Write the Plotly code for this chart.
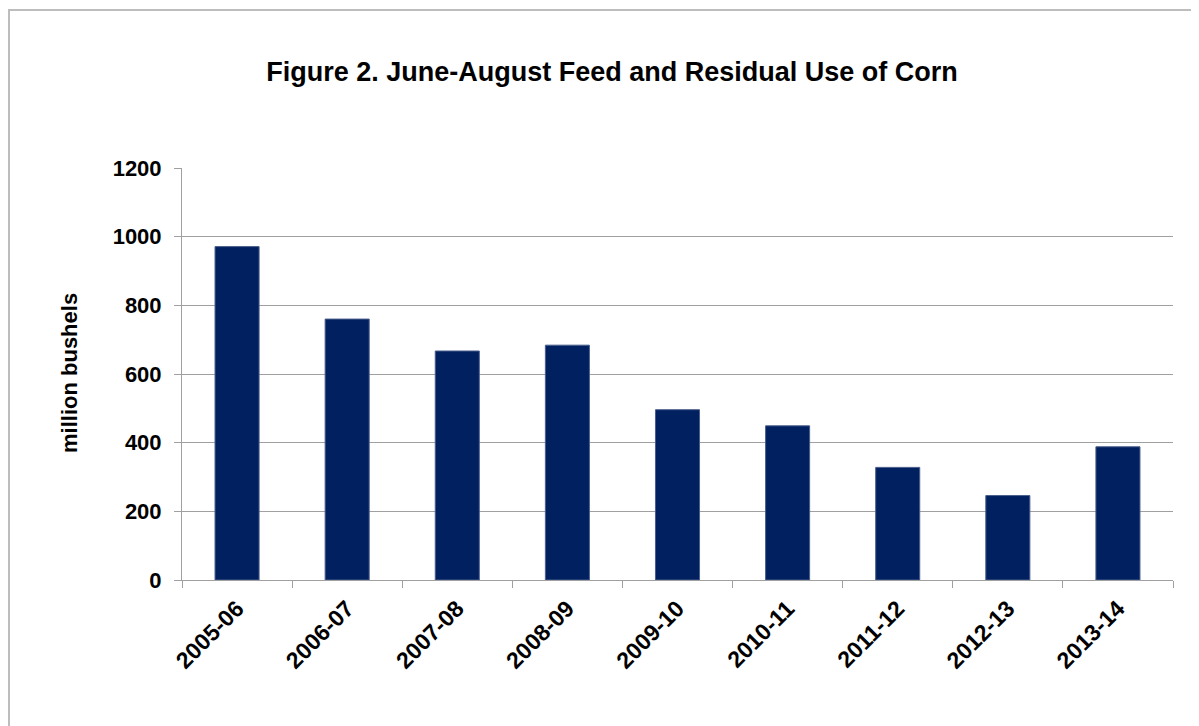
import plotly.graph_objects as go

seasons = ["2005-06", "2006-07", "2007-08", "2008-09", "2009-10",
           "2010-11", "2011-12", "2012-13", "2013-14"]
feed_residual = [971, 760, 667, 684, 496, 449, 328, 246, 388]
y_ticks = [0, 200, 400, 600, 800, 1000, 1200]

W, H = 1199, 726
OFF = 8  # page body margin
# target plot area in screenshot pixels
PL, PR, PT, PB = 182, 1173, 168, 580
ML, MT = PL - OFF, PT - OFF
MR, MB = (W + OFF) - PR, (H + OFF) - PB
PW, PH = PR - PL, PB - PT

fig = go.Figure(go.Bar(
    x=seasons, y=feed_residual,
    marker=dict(color="#002060", line=dict(color="#4A5E8C", width=1)),
    width=0.4,
))

font = "Liberation Sans, Arial, sans-serif"
fig.update_layout(
    width=W, height=H,
    margin=dict(l=ML, r=MR, t=MT, b=MB, autoexpand=False),
    paper_bgcolor="white", plot_bgcolor="white",
    showlegend=False,
    title=dict(text="<b>Figure 2. June-August Feed and Residual Use of Corn</b>",
               x=(612 - OFF) / W, xref="container", xanchor="center",
               y=1 - (72 - OFF) / H, yref="container", yanchor="middle",
               font=dict(family=font, size=27, color="black")),
    font=dict(family=font, color="black"),
)
fig.update_xaxes(
    type="category", showline=True, linecolor="#A0A0A0", linewidth=1,
    ticks="outside", tickson="boundaries", ticklen=7, tickcolor="#A0A0A0",
    tickangle=-45, tickfont=dict(family=font, size=23, color="black", weight="bold"),
    ticklabelstandoff=5,
    showgrid=False,
)
fig.update_yaxes(
    range=[0, 1200], tickvals=y_ticks, showline=True, linecolor="#A0A0A0",
    linewidth=1, ticks="outside", ticklen=7, tickcolor="#A0A0A0",
    showgrid=True, gridcolor="#A0A0A0", gridwidth=1, zeroline=False,
    tickfont=dict(family=font, size=22, color="black", weight="bold"),
    ticklabelstandoff=8,
)
fig.add_annotation(
    text="<b>million bushels</b>", textangle=-90,
    x=(69 - PL) / PW, y=(PB - 373) / PH, xref="paper", yref="paper",
    xanchor="center", yanchor="middle",
    showarrow=False, font=dict(family=font, size=22, color="black"),
)
fig.add_shape(
    type="rect", xref="paper", yref="paper",
    x0=(9 - PL) / PW, x1=(W + 40 - PL) / PW,
    y0=(PB - (H + 40)) / PH, y1=(PB - 10) / PH,
    line=dict(color="#BDBDBD", width=2), fillcolor="rgba(0,0,0,0)", layer="below",
)
fig.write_html("out.html")
